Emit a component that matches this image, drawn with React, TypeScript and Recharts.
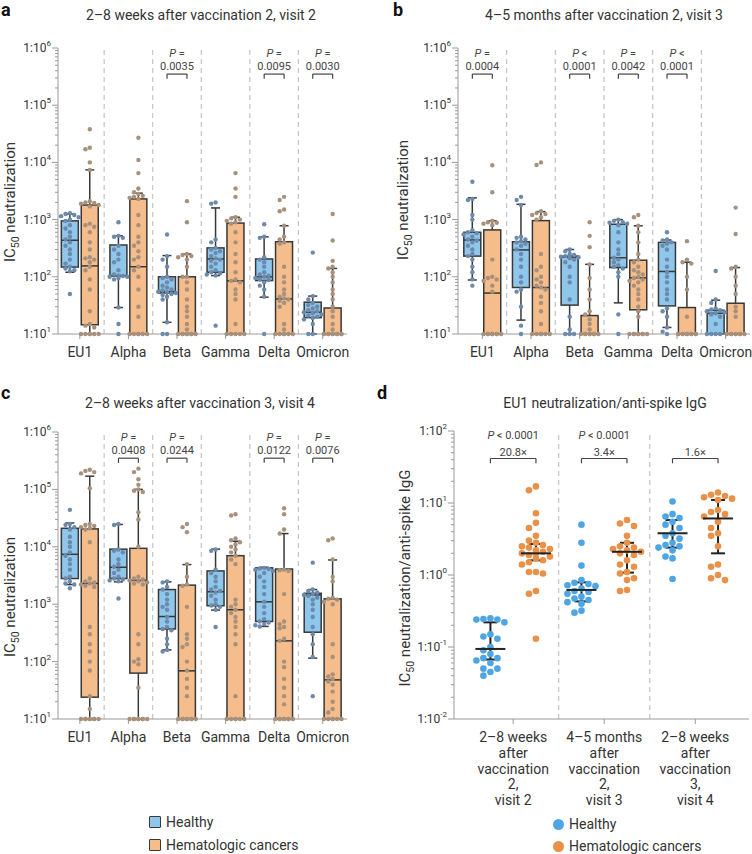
import React from 'react'
import { ComposedChart, Bar, Scatter, XAxis, YAxis, ReferenceLine, ErrorBar } from 'recharts'

const variants = ['EU1', 'Alpha', 'Beta', 'Gamma', 'Delta', 'Omicron']
const visitLabels = [
  ['2–8 weeks', 'after', 'vaccination', '2,', 'visit 2'],
  ['4–5 months', 'after', 'vaccination', '2,', 'visit 3'],
  ['2–8 weeks', 'after', 'vaccination', '3,', 'visit 4'],
]

// box stats per variant: [lower whisker, Q1, median, Q3, upper whisker]
const visit2HealthyBox = [
  [120, 148, 435, 950, 1250],
  [29, 103, 105, 360, 520],
  [16, 52, 55, 100, 235],
  [105, 120, 205, 320, 1600],
  [44, 86, 100, 205, 500],
  [10, 19.3, 24, 36, 46],
]
const visit2CancerBox = [
  [10, 14.5, 155, 1800, 7400],
  [10, 10, 150, 2300, 2900],
  [10, 10, 10, 100, 250],
  [10, 10, 85, 870, 1100],
  [10, 10, 41, 410, 780],
  [10, 10, 10, 28.5, 140],
]
const visit3HealthyBox = [
  [88, 230, 440, 600, 2400],
  [17.5, 65, 295, 410, 1850],
  [10, 32, 220, 230, 300],
  [35, 145, 215, 830, 1000],
  [13, 31, 124, 400, 440],
  [10, 10, 23, 26, 39],
]
const visit3CancerBox = [
  [10, 10, 52, 660, 950],
  [10, 10, 65, 960, 1380],
  [10, 10, 10, 21, 165],
  [10, 26.5, 96, 195, 780],
  [10, 10, 10, 29, 180],
  [10, 10, 10, 34.5, 145],
]
const visit4HealthyBox = [
  [2200, 2800, 7400, 21000, 26000],
  [2450, 2800, 4400, 9100, 24500],
  [160, 370, 610, 1800, 2450],
  [790, 940, 1650, 3800, 9100],
  [410, 500, 1100, 4300, 4400],
  [115, 325, 1450, 1550, 1800],
]
const visit4CancerBox = [
  [10, 24, 2300, 20500, 170000],
  [10, 63, 2600, 9400, 100000],
  [10, 10, 69, 2150, 4900],
  [10, 10, 800, 7000, 12500],
  [10, 10, 230, 4100, 17000],
  [10, 10, 48, 1240, 5900],
]

// individual IC50 titers per variant
const visit2Healthy = [
  [1300, 1250, 1200, 1150, 1100, 1000, 950, 800, 700, 600, 500, 450, 400, 350, 300, 250, 200, 170, 150, 140, 130, 125, 50],
  [900, 520, 500, 480, 350, 300, 250, 200, 180, 130, 110, 105, 103, 100, 100, 95, 90, 29, 15, 10],
  [550, 230, 200, 150, 100, 95, 90, 80, 70, 65, 60, 58, 55, 54, 52, 50, 48, 45, 40, 16, 10, 10],
  [2000, 1900, 450, 400, 320, 300, 280, 260, 230, 210, 200, 190, 170, 150, 130, 120, 115, 110, 105, 14],
  [830, 500, 480, 220, 200, 180, 150, 120, 110, 105, 100, 95, 90, 88, 80, 70, 60, 45, 10],
  [265, 46, 40, 35, 32, 30, 28, 26, 25, 24, 23, 22, 21, 20, 19, 18, 15, 10, 10],
]
const visit2Cancer = [
  [38000, 18000, 17000, 10000, 7400, 2100, 2000, 1950, 1900, 1800, 1700, 850, 800, 750, 600, 400, 300, 220, 210, 200, 180, 150, 130, 90, 60, 25, 15, 14, 13, 10, 10, 10, 10, 10, 10],
  [27000, 11000, 6500, 3500, 3000, 2800, 2600, 2500, 2400, 2300, 1200, 800, 500, 400, 350, 280, 220, 200, 150, 130, 100, 60, 30, 20, 10, 10, 10, 10, 10, 10],
  [2100, 900, 250, 240, 230, 220, 200, 150, 100, 100, 80, 60, 40, 30, 25, 20, 15, 12, 10, 10, 10, 10, 10, 10, 10, 10],
  [6500, 3500, 2500, 1100, 1050, 1000, 950, 900, 850, 600, 400, 250, 180, 120, 90, 85, 80, 60, 50, 40, 15, 10, 10, 10, 10, 10],
  [2500, 2200, 1500, 1400, 780, 500, 450, 400, 380, 150, 100, 80, 60, 50, 45, 42, 40, 38, 35, 30, 15, 12, 10, 10, 10, 10, 10, 10],
  [1250, 430, 190, 150, 140, 120, 100, 80, 60, 50, 40, 30, 25, 20, 15, 12, 10, 10, 10, 10, 10, 10, 10, 10, 10, 10],
]
const visit3Healthy = [
  [4600, 2300, 2200, 1200, 1000, 650, 600, 580, 550, 500, 450, 430, 400, 350, 300, 250, 230, 200, 150, 120, 90, 70],
  [2500, 2200, 1800, 500, 480, 450, 420, 400, 380, 350, 300, 250, 200, 150, 100, 80, 60, 55, 30, 14, 10],
  [300, 280, 250, 240, 230, 225, 220, 215, 210, 200, 180, 150, 100, 80, 40, 20, 12, 10, 10, 10],
  [1000, 950, 900, 880, 850, 800, 600, 400, 300, 250, 215, 200, 180, 160, 150, 140, 120, 100, 22, 10],
  [600, 450, 430, 400, 380, 350, 300, 200, 150, 120, 100, 80, 60, 50, 40, 28, 25, 20, 13, 11, 10],
  [126, 40, 35, 28, 27, 26, 25, 24, 23, 22, 20, 15, 10, 10, 10, 10],
]
const visit3Cancer = [
  [8900, 3000, 950, 900, 880, 850, 800, 200, 100, 95, 90, 85, 70, 55, 10, 10, 10, 10, 10, 10, 10, 10],
  [10000, 9000, 1400, 1300, 1250, 1200, 1100, 1000, 250, 150, 130, 100, 90, 80, 70, 65, 60, 45, 35, 25, 15, 10, 10, 10, 10, 10, 10],
  [900, 520, 330, 165, 95, 60, 40, 25, 22, 18, 15, 12, 10, 10, 10, 10, 10, 10, 10, 10],
  [1200, 1100, 780, 600, 400, 250, 200, 180, 150, 130, 120, 110, 100, 95, 90, 85, 80, 70, 60, 50, 40, 30, 25, 20, 10, 10, 10, 10, 10, 10, 10, 10],
  [420, 200, 180, 170, 100, 60, 20, 10, 10, 10, 10, 10, 10, 10, 10, 10, 10],
  [1620, 560, 150, 140, 100, 70, 50, 30, 25, 20, 10, 10, 10, 10, 10, 10, 10, 10],
]
const visit4Healthy = [
  [44000, 25000, 24000, 22000, 20000, 15000, 12000, 10000, 8000, 7000, 6000, 5000, 4000, 3000, 2800, 2500, 2300, 2200, 1900],
  [25000, 24000, 9000, 8500, 8000, 6000, 5000, 4500, 4000, 3500, 3000, 2800, 2700, 2600, 2500, 1260],
  [2500, 2400, 2000, 1800, 1500, 1200, 1000, 900, 800, 600, 500, 400, 370, 350, 250, 200, 160, 150],
  [9000, 8500, 4000, 3500, 3000, 2500, 2000, 1800, 1700, 1600, 1400, 1200, 1000, 950, 900, 800, 400],
  [4300, 4200, 4100, 4000, 3800, 3500, 3000, 2500, 2000, 1500, 1100, 900, 700, 550, 500, 480, 450, 430, 410],
  [5300, 1800, 1700, 1600, 1500, 1450, 1400, 1300, 1200, 1000, 800, 600, 400, 300, 200, 120, 25],
]
const visit4Cancer = [
  [220000, 210000, 200000, 190000, 105000, 25000, 24000, 23000, 22000, 21000, 20000, 12000, 2800, 2500, 2400, 2300, 2200, 2100, 2000, 400, 300, 200, 150, 100, 70, 25, 15, 10, 10, 10, 10, 10, 10, 10, 10],
  [230000, 200000, 150000, 120000, 100000, 95000, 90000, 40000, 30000, 10000, 3000, 2800, 2700, 2600, 2500, 2400, 2300, 2200, 300, 200, 110, 100, 90, 35, 10, 10, 10, 10, 10, 10, 10, 10],
  [25000, 22000, 18000, 5000, 3000, 2200, 2100, 900, 300, 250, 200, 180, 100, 70, 50, 35, 25, 10, 10, 10, 10, 10, 10, 10, 10],
  [37000, 35000, 14000, 13000, 12000, 11000, 10000, 9000, 8000, 7000, 6000, 5000, 1200, 1000, 900, 800, 700, 600, 500, 400, 300, 200, 25, 10, 10, 10, 10, 10, 10],
  [47000, 37000, 20000, 17000, 4000, 3900, 3800, 1500, 500, 450, 400, 380, 250, 230, 100, 80, 50, 35, 25, 18, 10, 10, 10, 10, 10, 10, 10, 10],
  [14000, 13000, 6000, 3000, 2500, 1300, 1250, 1200, 1100, 1000, 200, 120, 60, 55, 50, 45, 40, 30, 20, 15, 13, 10, 10, 10, 10, 10, 10],
]

// [sign, value] per variant, null where no test is shown
const visit2P = [null, null, ['=', '0.0035'], null, ['=', '0.0095'], ['=', '0.0030']]
const visit3P = [['=', '0.0004'], null, ['<', '0.0001'], ['=', '0.0042'], ['<', '0.0001'], null]
const visit4P = [null, ['=', '0.0408'], ['=', '0.0244'], null, ['=', '0.0122'], ['=', '0.0076']]

// panel d: EU1 neutralization / anti-spike IgG per visit
const ratioHealthy = [
  [0.25, 0.245, 0.24, 0.24, 0.22, 0.15, 0.14, 0.13, 0.1, 0.09, 0.08, 0.07, 0.07, 0.065, 0.06, 0.05, 0.05, 0.045, 0.04],
  [5.0, 2.8, 1.35, 0.85, 0.78, 0.75, 0.72, 0.7, 0.65, 0.6, 0.58, 0.55, 0.5, 0.47, 0.45, 0.42, 0.4, 0.32, 0.3],
  [10.5, 7, 6.5, 6.2, 5.5, 5.0, 4.5, 3.8, 3.5, 3.2, 2.8, 2.6, 2.5, 2.4, 2.2, 1.8, 1.7, 0.88],
]
const ratioCancer = [
  [17, 15, 7.2, 5.3, 4.5, 3.5, 3.0, 2.8, 2.6, 2.5, 2.4, 2.3, 2.2, 2.1, 2.0, 2.0, 1.9, 1.8, 1.7, 1.6, 1.5, 1.4, 1.1, 1.1, 1.05, 0.6, 0.55, 0.13],
  [5.8, 5.2, 4.8, 3.5, 2.8, 2.5, 2.4, 2.3, 2.2, 2.1, 2.0, 1.9, 1.6, 1.4, 1.3, 1.1, 1.05, 0.9, 0.85, 0.62, 0.6],
  [14, 13, 12.5, 12, 11.5, 11, 8, 7.5, 7, 6.5, 5.5, 4.5, 3.8, 3.5, 2.5, 1.4, 1.3, 1.0, 0.9, 0.85],
]
// [Q1, median, Q3]
const ratioHealthyStats = [[0.067, 0.094, 0.22], [0.43, 0.62, 0.79], [2.4, 3.8, 5.8]]
const ratioCancerStats = [[1.6, 2.0, 2.7], [1.08, 2.1, 2.8], [2.0, 6.1, 11]]
const ratioP = ['< 0.0001', '< 0.0001', '']
const ratioFold = ['20.8×', '3.4×', '1.6×']

const FONT = 'Roboto, "Noto Sans", Arial, sans-serif'
const TEXT = '#333'
const AXIS = '#9a9a9a'
const OUTLINE = '#383838'
const HEALTHY_BOX = '#8fc6ec'
const CANCER_BOX = '#f6bd8c'
const HEALTHY_DOT = '#6c8aab'
const CANCER_DOT = '#a8917c'
const D_HEALTHY = '#4da5e3'
const D_CANCER = '#e99149'

const BOX_SHIFT = 0.205
const BOX_W = 17
const D_SHIFT = 0.25

function logTicks(lo: number, hi: number) {
  const out: number[] = []
  for (let e = lo; e < hi; e++) for (let k = 1; k < 10; k++) out.push(k * Math.pow(10, e))
  out.push(Math.pow(10, hi))
  return out
}

// simple beeswarm: spread equal-ish values sideways instead of stacking them
function swarm(values: number[], pxPerUnit: number, pxPerDecade: number, step: number, slots: number) {
  const order = values.map((_, i) => i).sort((a, b) => values[b] - values[a])
  const placed: { dx: number; py: number }[] = []
  const offsets = new Array(values.length).fill(0)
  for (const i of order) {
    const py = Math.log10(values[i]) * pxPerDecade
    let best = 0
    let bestHits = Infinity
    for (let s = 0; s <= 2 * slots; s++) {
      const k = s % 2 === 0 ? s / 2 : -(s + 1) / 2
      const dx = k * step
      let hits = 0
      for (const p of placed) if (Math.hypot(p.dx - dx, p.py - py) < step * 0.95) hits++
      if (hits < bestHits) {
        best = dx
        bestHits = hits
        if (hits === 0) break
      }
    }
    placed.push({ dx: best, py })
    offsets[i] = best / pxPerUnit
  }
  return offsets
}

const LogTick = (props: any) => {
  const { x, y, payload } = props
  const lg = Math.log10(payload.value)
  const e = Math.round(lg)
  const major = Math.abs(lg - e) < 1e-6
  const ax = x + 9
  return (
    <g>
      <line x1={ax - (major ? 6 : 3)} x2={ax} y1={y} y2={y} stroke={AXIS} />
      {major && (
        <text x={ax - 7} y={y + 4} textAnchor="end" fontSize={12} fill={TEXT} fontFamily={FONT}>
          1:10<tspan dy={-6} fontSize={8}>{e}</tspan>
        </text>
      )}
    </g>
  )
}

const VisitTick = (props: any) => {
  const { x, y, payload } = props
  const lines = visitLabels[Math.floor(payload.value)] || []
  return (
    <text x={x} y={y} textAnchor="middle" fontSize={14} fill={TEXT} fontFamily={FONT}>
      {lines.map((l, k) => (
        <tspan key={k} x={x} dy={k === 0 ? '0.71em' : 15.8}>{l}</tspan>
      ))}
    </text>
  )
}

const BoxShape = (props: any) => {
  const { x, y, width, height, payload } = props
  if (x == null || y == null) return null
  const [lo, q1, med, q3, hi] = payload.stats
  const span = Math.log10(hi) - Math.log10(lo)
  const py = (v: number) => y + (span > 0 ? (height * (Math.log10(hi) - Math.log10(v))) / span : 0)
  const cx = x + (width || 0) / 2
  const left = cx - BOX_W / 2
  const cap = 4.5
  return (
    <g stroke={OUTLINE} strokeWidth={1.5}>
      {hi > q3 && <line x1={cx} x2={cx} y1={py(hi)} y2={py(q3)} />}
      {hi > q3 && <line x1={cx - cap} x2={cx + cap} y1={py(hi)} y2={py(hi)} />}
      {lo < q1 && <line x1={cx} x2={cx} y1={py(q1)} y2={py(lo)} />}
      {lo < q1 && <line x1={cx - cap} x2={cx + cap} y1={py(lo)} y2={py(lo)} />}
      <rect x={left} y={py(q3)} width={BOX_W} height={Math.max(py(q1) - py(q3), 0.5)} fill={payload.fill} />
      <line x1={left} x2={left + BOX_W} y1={py(med)} y2={py(med)} />
    </g>
  )
}

const dot = (color: string, r: number) => (p: any) => <circle cx={p.cx} cy={p.cy} r={r} fill={color} />

const PLabel = (props: any) => {
  const { cx, cy, payload } = props
  return (
    <g fontFamily={FONT} fontSize={11} fill="#444" textAnchor="middle">
      <text x={cx} y={cy - 17}>
        <tspan fontStyle="italic">P</tspan> {payload.op}
      </text>
      <text x={cx} y={cy - 4}>{payload.val}</text>
    </g>
  )
}

const RatioLabel = (props: any) => {
  const { cx, cy, payload } = props
  return (
    <g fontFamily={FONT} fontSize={11} fill="#444" textAnchor="middle">
      {payload.p && (
        <text x={cx} y={cy - 20}>
          <tspan fontStyle="italic">P</tspan> {payload.p}
        </text>
      )}
      <text x={cx} y={cy - 3}>{payload.fold}</text>
    </g>
  )
}

const MedianLine = (p: any) => (
  <line x1={p.cx - 15} x2={p.cx + 15} y1={p.cy} y2={p.cy} stroke="#222" strokeWidth={2} />
)

function bracket(key: string, x0: number, x1: number, top: number, foot: number) {
  return [
    <ReferenceLine key={key + 'h'} segment={[{ x: x0, y: top }, { x: x1, y: top }]} stroke="#444" strokeWidth={1.2} />,
    <ReferenceLine key={key + 'l'} segment={[{ x: x0, y: top }, { x: x0, y: foot }]} stroke="#444" strokeWidth={1.2} />,
    <ReferenceLine key={key + 'r'} segment={[{ x: x1, y: top }, { x: x1, y: foot }]} stroke="#444" strokeWidth={1.2} />,
  ]
}

interface BoxPanelProps {
  healthyBox: number[][]
  cancerBox: number[][]
  healthy: number[][]
  cancer: number[][]
  pvals: (string[] | null)[]
  marginTop: number
  marginLeft: number
  marginRight: number
  xAxisHeight: number
  xMin: number
}

function BoxPanel({ healthyBox, cancerBox, healthy, cancer, pvals, marginTop, marginLeft, marginRight, xAxisHeight, xMin }: BoxPanelProps) {
  const width = 376
  const height = 370
  const yAxisWidth = 50
  const plotW = width - marginLeft - marginRight - yAxisWidth
  const plotH = height - marginTop - xAxisHeight
  const pxPerUnit = plotW / (6 - xMin)
  const pxPerDecade = plotH / 5

  const rows = variants.flatMap((_, i) => [
    { x: i + 0.5 - BOX_SHIFT, range: [healthyBox[i][0], healthyBox[i][4]], stats: healthyBox[i], fill: HEALTHY_BOX },
    { x: i + 0.5 + BOX_SHIFT, range: [cancerBox[i][0], cancerBox[i][4]], stats: cancerBox[i], fill: CANCER_BOX },
  ])
  const toDots = (groups: number[][], side: number) =>
    groups.flatMap((vals, i) => {
      const offs = swarm(vals, pxPerUnit, pxPerDecade, 4.4, 2)
      return vals.map((v, k) => ({ x: i + 0.5 + side * BOX_SHIFT + offs[k], y: v }))
    })
  const notes = pvals
    .map((p, i) => (p ? { x: i + 0.5, y: 3.5e5, op: p[0], val: p[1] } : null))
    .filter(Boolean) as any[]

  return (
    <ComposedChart width={width} height={height} data={rows} margin={{ top: marginTop, right: marginRight, bottom: 0, left: marginLeft }}>
      <XAxis
        dataKey="x"
        type="number"
        domain={[xMin, 6]}
        ticks={[0.5, 1.5, 2.5, 3.5, 4.5, 5.5]}
        tickFormatter={(v: number) => variants[Math.floor(v)]}
        tick={{ fontSize: 14, fill: TEXT, fontFamily: FONT }}
        tickSize={5}
        tickMargin={8}
        height={xAxisHeight}
        axisLine={{ stroke: AXIS }}
        tickLine={{ stroke: AXIS }}
        interval={0}
      />
      <YAxis
        dataKey="y"
        type="number"
        scale="log"
        domain={[10, 1e6]}
        ticks={logTicks(1, 6)}
        interval={0}
        tick={<LogTick />}
        tickLine={false}
        tickSize={6}
        tickMargin={3}
        axisLine={{ stroke: AXIS }}
        width={yAxisWidth}
      />
      {[1, 2, 3, 4, 5].map((k) => (
        <ReferenceLine key={k} x={k} stroke="#c4c4c4" strokeDasharray="5 4" strokeWidth={1.2} />
      ))}
      <Bar dataKey="range" barSize={BOX_W} shape={BoxShape} isAnimationActive={false} />
      <Scatter data={toDots(healthy, -1)} shape={dot(HEALTHY_DOT, 2.2)} isAnimationActive={false} />
      <Scatter data={toDots(cancer, 1)} shape={dot(CANCER_DOT, 2.2)} isAnimationActive={false} />
      <Scatter data={notes} shape={PLabel} isAnimationActive={false} />
      {notes.flatMap((n, k) => bracket('b' + k, n.x - BOX_SHIFT, n.x + BOX_SHIFT, 3.5e5, 2.9e5))}
    </ComposedChart>
  )
}

function RatioPanel() {
  const width = 376
  const height = 440
  const margin = { top: 41, right: 3, bottom: 0, left: 28 }
  const yAxisWidth = 50
  const xAxisHeight = 111
  const xMin = -0.15
  const xMax = 3.09
  const pxPerUnit = (width - margin.left - margin.right - yAxisWidth) / (xMax - xMin)
  const pxPerDecade = (height - margin.top - xAxisHeight) / 4

  const toDots = (groups: number[][], side: number) =>
    groups.flatMap((vals, i) => {
      const offs = swarm(vals, pxPerUnit, pxPerDecade, 7, 2)
      return vals.map((v, k) => ({ x: i + 0.5 + side * D_SHIFT + offs[k], y: v }))
    })
  const medians = [0, 1, 2].flatMap((i) => [
    { x: i + 0.5 - D_SHIFT, y: ratioHealthyStats[i][1], err: [ratioHealthyStats[i][1] - ratioHealthyStats[i][0], ratioHealthyStats[i][2] - ratioHealthyStats[i][1]] },
    { x: i + 0.5 + D_SHIFT, y: ratioCancerStats[i][1], err: [ratioCancerStats[i][1] - ratioCancerStats[i][0], ratioCancerStats[i][2] - ratioCancerStats[i][1]] },
  ])
  const notes = [0, 1, 2].map((i) => ({ x: i + 0.5, y: 41.5, p: ratioP[i], fold: ratioFold[i] }))

  return (
    <ComposedChart width={width} height={height} margin={margin}>
      <XAxis
        dataKey="x"
        type="number"
        domain={[xMin, xMax]}
        ticks={[0.5, 1.5, 2.5]}
        tick={<VisitTick />}
        tickSize={5}
        tickMargin={8}
        height={xAxisHeight}
        axisLine={{ stroke: AXIS }}
        tickLine={{ stroke: AXIS }}
        interval={0}
      />
      <YAxis
        dataKey="y"
        type="number"
        scale="log"
        domain={[0.01, 100]}
        ticks={logTicks(-2, 2)}
        interval={0}
        tick={<LogTick />}
        tickLine={false}
        tickSize={6}
        tickMargin={3}
        axisLine={{ stroke: AXIS }}
        width={yAxisWidth}
      />
      {[1, 2].map((k) => (
        <ReferenceLine key={k} x={k} stroke="#c4c4c4" strokeDasharray="5 4" strokeWidth={1.2} />
      ))}
      <Scatter data={toDots(ratioHealthy, -1)} shape={dot(D_HEALTHY, 3.3)} isAnimationActive={false} />
      <Scatter data={toDots(ratioCancer, 1)} shape={dot(D_CANCER, 3.3)} isAnimationActive={false} />
      <Scatter data={medians} shape={MedianLine} isAnimationActive={false}>
        <ErrorBar dataKey="err" direction="y" width={7} strokeWidth={2} stroke="#222" isAnimationActive={false} />
      </Scatter>
      <Scatter data={notes} shape={RatioLabel} isAnimationActive={false} />
      {notes.flatMap((n, k) => bracket('d' + k, n.x - D_SHIFT, n.x + D_SHIFT, 41.5, 35.6))}
    </ComposedChart>
  )
}

const abs = (left: number, top: number): React.CSSProperties => ({ position: 'absolute', left, top })

const Centered = ({ x, y, size, children, rotate }: any) => (
  <div
    style={{
      position: 'absolute',
      left: x,
      top: y,
      transform: `translate(-50%, -50%)${rotate ? ' rotate(-90deg)' : ''}`,
      whiteSpace: 'nowrap',
      fontSize: size,
      lineHeight: 1.2,
    }}
  >
    {children}
  </div>
)

const Letter = ({ x, y, ch }: any) => (
  <div style={{ ...abs(x, y), fontSize: 18, fontWeight: 700, lineHeight: '16px', color: '#111' }}>{ch}</div>
)

const LegendRow = ({ x, y, color, round, label }: any) => (
  <div style={{ ...abs(x, y - 7), display: 'flex', alignItems: 'center', height: 14, lineHeight: '14px', fontSize: 14 }}>
    <span
      style={{
        display: 'inline-block',
        width: round ? 11 : 10,
        height: round ? 11 : 10,
        borderRadius: round ? '50%' : 1,
        background: color,
        border: round ? 'none' : `1.5px solid ${OUTLINE}`,
        marginRight: 5,
      }}
    />
    {label}
  </div>
)

export default function App() {
  return (
    <div style={{ position: 'absolute', left: 0, top: 0, width: 752, height: 854, background: '#fff', fontFamily: FONT, color: TEXT, overflow: 'hidden' }}>
      <div style={abs(0, 0)}>
        <BoxPanel healthyBox={visit2HealthyBox} cancerBox={visit2CancerBox} healthy={visit2Healthy} cancer={visit2Cancer} pvals={visit2P} marginTop={48} marginLeft={8} marginRight={29} xAxisHeight={36} xMin={0.05} />
      </div>
      <div style={abs(376, 0)}>
        <BoxPanel healthyBox={visit3HealthyBox} cancerBox={visit3CancerBox} healthy={visit3Healthy} cancer={visit3Cancer} pvals={visit3P} marginTop={48} marginLeft={32} marginRight={2} xAxisHeight={36} xMin={0} />
      </div>
      <div style={abs(0, 390)}>
        <BoxPanel healthyBox={visit4HealthyBox} cancerBox={visit4CancerBox} healthy={visit4Healthy} cancer={visit4Cancer} pvals={visit4P} marginTop={42} marginLeft={8} marginRight={29} xAxisHeight={41} xMin={0.05} />
      </div>
      <div style={abs(376, 390)}>
        <RatioPanel />
      </div>

      <Letter x={1} y={2} ch="a" />
      <Letter x={393} y={2} ch="b" />
      <Letter x={1} y={385} ch="c" />
      <Letter x={377} y={385} ch="d" />

      <Centered x={201} y={15} size={14}>2–8 weeks after vaccination 2, visit 2</Centered>
      <Centered x={604} y={15} size={14}>4–5 months after vaccination 2, visit 3</Centered>
      <Centered x={200} y={403} size={14}>2–8 weeks after vaccination 3, visit 4</Centered>
      <Centered x={605} y={403} size={14}>EU1 neutralization/anti-spike IgG</Centered>

      <Centered x={12} y={202} size={15} rotate>IC<sub style={{ fontSize: '0.7em' }}>50</sub> neutralization</Centered>
      <Centered x={405} y={200} size={15} rotate>IC<sub style={{ fontSize: '0.7em' }}>50</sub> neutralization</Centered>
      <Centered x={12} y={597} size={15} rotate>IC<sub style={{ fontSize: '0.7em' }}>50</sub> neutralization</Centered>
      <Centered x={407} y={578} size={15} rotate>IC<sub style={{ fontSize: '0.7em' }}>50</sub> neutralization/anti-spike IgG</Centered>

      <LegendRow x={149} y={822} color={HEALTHY_BOX} label="Healthy" />
      <LegendRow x={149} y={845} color={CANCER_BOX} label="Hematologic cancers" />
      <LegendRow x={553} y={824} color={D_HEALTHY} round label="Healthy" />
      <LegendRow x={553} y={846} color={D_CANCER} round label="Hematologic cancers" />
    </div>
  )
}
